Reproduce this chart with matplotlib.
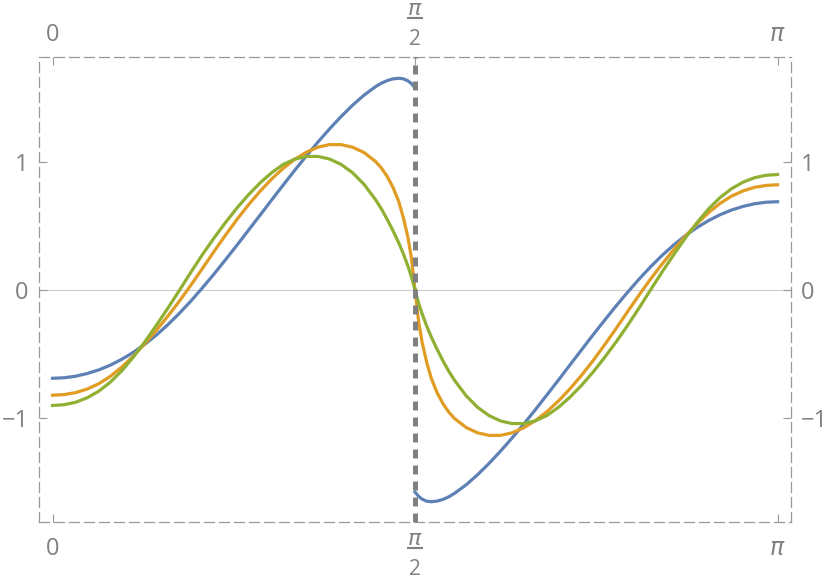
import numpy as np
import matplotlib.pyplot as plt
from matplotlib.transforms import blended_transform_factory

plt.rcParams['font.family'] = ['Open Sans', 'DejaVu Sans']

# sample positions, split at the jump at pi/2
x_left = [0.0, 0.05, 0.1, 0.15, 0.2, 0.25, 0.3, 0.35, 0.4, 0.45, 0.5, 0.55,
          0.6, 0.65, 0.7, 0.75, 0.8, 0.85, 0.9, 0.95, 1.0, 1.05, 1.1, 1.15,
          1.2, 1.25, 1.3, 1.35, 1.4, 1.425, 1.45, 1.475, 1.5, 1.52, 1.54,
          1.555, 1.5708]
x_right = [1.5708, 1.5866, 1.6016, 1.6216, 1.6416, 1.6666, 1.6916, 1.7166,
           1.7416, 1.7916, 1.8416, 1.8916, 1.9416, 1.9916, 2.0416, 2.0916,
           2.1416, 2.1916, 2.2416, 2.2916, 2.3416, 2.3916, 2.4416, 2.4916,
           2.5416, 2.5916, 2.6416, 2.6916, 2.7416, 2.7916, 2.8416, 2.8916,
           2.9416, 2.9916, 3.0416, 3.0916, 3.1416]

# values
blue_left = [-0.688, -0.684, -0.672, -0.651, -0.623, -0.586, -0.540, -0.486,
             -0.423, -0.351, -0.270, -0.181, -0.085, 0.018, 0.125, 0.237,
             0.351, 0.468, 0.585, 0.703, 0.819, 0.934, 1.045, 1.153, 1.255,
             1.351, 1.440, 1.519, 1.585, 1.612, 1.632, 1.645, 1.650, 1.646,
             1.630, 1.609, 1.575]
blue_right = [-1.575, -1.609, -1.630, -1.646, -1.650, -1.645, -1.632, -1.612,
              -1.585, -1.519, -1.440, -1.351, -1.255, -1.153, -1.045, -0.934,
              -0.819, -0.703, -0.585, -0.468, -0.351, -0.237, -0.125, -0.018,
              0.085, 0.181, 0.270, 0.351, 0.423, 0.486, 0.540, 0.586, 0.623,
              0.651, 0.672, 0.684, 0.688]

orange_left = [-0.820, -0.815, -0.800, -0.772, -0.731, -0.674, -0.601, -0.515,
               -0.418, -0.314, -0.203, -0.086, 0.039, 0.169, 0.301, 0.429,
               0.552, 0.666, 0.771, 0.866, 0.949, 1.019, 1.074, 1.113, 1.133,
               1.133, 1.113, 1.071, 1.001, 0.951, 0.885, 0.801, 0.690, 0.565,
               0.410, 0.250, 0.0]
orange_right = [0.0, -0.250, -0.410, -0.565, -0.690, -0.801, -0.885, -0.951,
                -1.001, -1.071, -1.113, -1.133, -1.133, -1.113, -1.074,
                -1.019, -0.949, -0.866, -0.771, -0.666, -0.552, -0.429,
                -0.301, -0.169, -0.039, 0.086, 0.203, 0.314, 0.418, 0.515,
                0.601, 0.674, 0.731, 0.772, 0.800, 0.815, 0.820]

green_left = [-0.900, -0.894, -0.875, -0.840, -0.789, -0.719, -0.630, -0.523,
              -0.404, -0.275, -0.141, -0.002, 0.140, 0.277, 0.406, 0.527,
              0.641, 0.744, 0.836, 0.915, 0.979, 1.020, 1.041, 1.041, 1.021,
              0.979, 0.914, 0.823, 0.703, 0.632, 0.551, 0.463, 0.368, 0.283,
              0.186, 0.104, 0.0]
green_right = [0.0, -0.104, -0.186, -0.283, -0.368, -0.463, -0.551, -0.632,
               -0.703, -0.823, -0.914, -0.979, -1.021, -1.041, -1.041, -1.020,
               -0.979, -0.915, -0.836, -0.744, -0.641, -0.527, -0.406, -0.277,
               -0.140, 0.002, 0.141, 0.275, 0.404, 0.523, 0.630, 0.719,
               0.789, 0.840, 0.875, 0.894, 0.900]

x_ticks = [0, np.pi / 2, np.pi]
x_tick_labels = ['0', None, r'$\pi$']   # None -> stacked pi/2
y_ticks = [-1, 0, 1]
y_tick_labels = ['\u22121', '0', '1']

colors = ['#5e81b5', '#e19c24', '#8fb032']
gray = '#808080'

fig = plt.figure(figsize=(8.3, 5.82), dpi=100)
ax = fig.add_axes([0.0464, 0.1031, 0.9066, 0.7990])

series = [(blue_left, blue_right), (orange_left, orange_right),
          (green_left, green_right)]
for (yl, yr), c in zip(series, colors):
    ax.plot(x_left, yl, color=c, lw=2.3, solid_joinstyle='round', zorder=3)
    ax.plot(x_right, yr, color=c, lw=2.3, solid_joinstyle='round', zorder=3)

ax.axhline(0, color='#cccccc', lw=0.8, zorder=1)
ax.axvline(np.pi / 2, color=gray, lw=3.6, dashes=(1.8, 1.4), zorder=5)

ax.set_xlim(-0.0607, 3.1998)
ax.set_ylim(-1.808, 1.816)

for s in ax.spines.values():
    s.set_linestyle((0, (8, 4)))
    s.set_color('#999999')
    s.set_linewidth(0.9)

ax.set_xticks(x_ticks)
ax.set_xticklabels([])
ax.set_yticks(y_ticks)
ax.set_yticklabels(y_tick_labels)
ax.tick_params(axis='both', direction='in', length=6, width=0.8,
               color='#999999', top=True, right=True)
ax.tick_params(axis='x', labelbottom=False)
ax.tick_params(axis='y', labelleft=True, labelright=True, labelsize=17,
               labelcolor=gray, pad=7)

# frame labels along x, top and bottom
trans = blended_transform_factory(ax.transData, ax.transAxes)
for xv, lab in zip(x_ticks, x_tick_labels):
    if lab is not None:
        ax.text(xv, -0.058, lab, transform=trans, ha='center', va='center',
                fontsize=17, color=gray)
        ax.text(xv, 1.048, lab, transform=trans, ha='center', va='center',
                fontsize=17, color=gray)
        continue
    # stacked fraction: (numerator y, bar y, denominator y)
    for ny, by, dy in [(1.1011, 1.0839, 1.0366), (-0.0366, -0.0559, -0.1011)]:
        ax.text(xv, ny, r'$\pi$', transform=trans, ha='center',
                va='center', fontsize=16, color=gray)
        ax.text(xv, dy, '2', transform=trans, ha='center', va='center',
                fontsize=15, color=gray)
        ax.plot([xv - 0.034, xv + 0.034], [by, by], transform=trans,
                color=gray, lw=1.5, clip_on=False, solid_capstyle='butt')

fig.savefig('out.png', dpi=100)
